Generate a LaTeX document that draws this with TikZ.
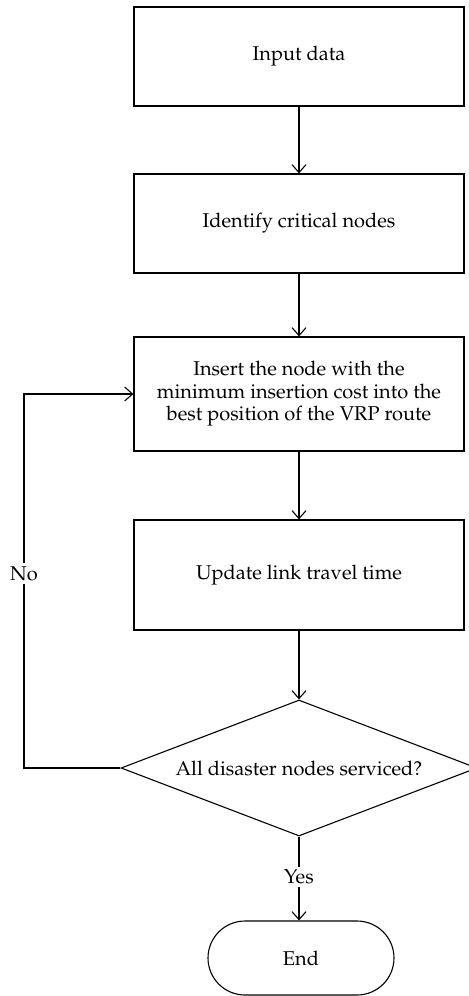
\documentclass[tikz,border=0pt]{standalone}
\usepackage[T1]{fontenc}
\usepackage{mathpazo}
\usetikzlibrary{shapes.geometric,shapes.misc,arrows.meta}
\begin{document}
\begin{tikzpicture}[x=0.5pt,y=-0.5pt,
  every node/.style={font=\fontsize{10}{11.25}\selectfont},
  procbox/.style={draw,line width=0.55pt,minimum width=165pt,inner sep=0pt,align=center},
  decis/.style={draw,diamond,line width=0.55pt,minimum width=178pt,minimum height=68pt,aspect=2.6,inner sep=0pt},
  term/.style={draw,rounded rectangle,line width=0.55pt,minimum width=93pt,minimum height=37pt,inner sep=0pt},
  conn/.style={line width=0.55pt,-{Straight Barb[length=4pt,width=7pt]}},
  lbl/.style={fill=white,inner sep=1.5pt}]
\useasboundingbox (0,0) rectangle (469,996);
\node[procbox,minimum height=49.5pt] (input) at (299,56.5) {Input data};
\node[procbox,minimum height=49.5pt] (ident) at (299,223.5) {Identify critical nodes};
\node[procbox,minimum height=57pt] (insert) at (299,394) {Insert the node with the\\minimum insertion cost into the\\best position of the VRP route};
\node[procbox,minimum height=55pt] (update) at (299,575) {Update link travel time};
\node[decis] (dec) at (299,768) {All disaster nodes serviced?};
\node[term] (end) at (301,958) {End};
\coordinate (lb) at (24,768);
\coordinate (lt) at (24,394);
\draw[conn] (input) -- (ident);
\draw[conn] (ident) -- (insert);
\draw[conn] (insert) -- (update);
\draw[conn] (update) -- (dec);
\draw[conn] (dec.south) -- node[lbl,pos=0.48] {Yes} (dec.south |- end.north);
\draw[conn] (dec.west) -- (lb) -- node[lbl,pos=0.52] {No} (lt) -- (insert.west);
\end{tikzpicture}
\end{document}
